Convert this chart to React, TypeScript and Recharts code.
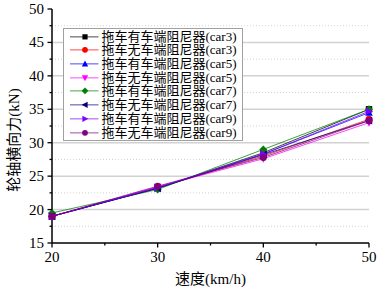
import React from 'react';
import { LineChart, Line, XAxis, YAxis, ReferenceLine } from 'recharts';

const speeds = [20, 30, 40, 50];
const seriesNames = [
  '拖车有车端阻尼器(car3)',
  '拖车无车端阻尼器(car3)',
  '拖车有车端阻尼器(car5)',
  '拖车无车端阻尼器(car5)',
  '拖车有车端阻尼器(car7)',
  '拖车无车端阻尼器(car7)',
  '拖车有车端阻尼器(car9)',
  '拖车无车端阻尼器(car9)',
];
const s1 = [19.0, 23.2, 28.5, 35.0];
const s2 = [19.0, 23.3, 28.0, 33.5];
const s3 = [19.0, 23.2, 28.3, 34.5];
const s4 = [19.0, 23.4, 27.6, 33.0];
const s5 = [19.5, 23.0, 29.0, 35.0];
const s6 = [19.0, 23.2, 28.2, 33.3];
const s7 = [19.0, 23.3, 28.3, 34.7];
const s8 = [19.0, 23.5, 27.8, 33.3];
const allSeries = [s1, s2, s3, s4, s5, s6, s7, s8];
const colors = ['#000000', '#ff0000', '#0000ff', '#ff00ff', '#008000', '#000080', '#8000ff', '#800080'];
const shapes = ['square', 'circle', 'up', 'down', 'diamond', 'left', 'right', 'circle'];

const yTicks = [15, 17.5, 20, 22.5, 25, 27.5, 30, 32.5, 35, 37.5, 40, 42.5, 45, 47.5, 50];
const xTicks = [20, 25, 30, 35, 40, 45, 50];
const majorGrid = [20, 25, 30, 35, 40, 45];
const minorGrid = [17.5, 22.5, 27.5, 32.5, 37.5, 42.5, 47.5];

const data = speeds.map((s, i) => {
  const row: any = { speed: s };
  allSeries.forEach((arr, k) => { row['s' + k] = arr[i]; });
  return row;
});

const FONT = "'Liberation Serif', 'Times New Roman', 'Noto Sans CJK SC', serif";

function Marker({ cx, cy, shape, color, r = 3.2 }: any) {
  if (cx == null || cy == null) return null;
  switch (shape) {
    case 'square':
      return <rect x={cx - r} y={cy - r} width={2 * r} height={2 * r} fill={color} />;
    case 'circle':
      return <circle cx={cx} cy={cy} r={r + 0.3} fill={color} />;
    case 'up':
      return <polygon points={`${cx},${cy - r - 0.8} ${cx - r - 0.6},${cy + r} ${cx + r + 0.6},${cy + r}`} fill={color} />;
    case 'down':
      return <polygon points={`${cx},${cy + r + 0.8} ${cx - r - 0.6},${cy - r} ${cx + r + 0.6},${cy - r}`} fill={color} />;
    case 'diamond':
      return <polygon points={`${cx},${cy - r - 0.8} ${cx + r + 0.8},${cy} ${cx},${cy + r + 0.8} ${cx - r - 0.8},${cy}`} fill={color} />;
    case 'left':
      return <polygon points={`${cx - r - 0.8},${cy} ${cx + r},${cy - r - 0.6} ${cx + r},${cy + r + 0.6}`} fill={color} />;
    case 'right':
      return <polygon points={`${cx + r + 0.8},${cy} ${cx - r},${cy - r - 0.6} ${cx - r},${cy + r + 0.6}`} fill={color} />;
    default:
      return null;
  }
}

const YTick = (props: any) => {
  const { x, y, payload } = props;
  const v = payload.value;
  const major = v % 5 === 0;
  const ax = x + 8;
  const len = major ? 4.5 : 2.5;
  return (
    <g>
      <line x1={ax} x2={ax - len} y1={y} y2={y} stroke="#000" strokeWidth={1.3} />
      {major && (
        <text x={ax - 8} y={y} dy={5} textAnchor="end" fontFamily={FONT} fontSize={15} fill="#000">
          {v}
        </text>
      )}
    </g>
  );
};

const XTick = (props: any) => {
  const { x, y, payload } = props;
  const v = payload.value;
  const major = v % 10 === 0;
  const len = major ? 4.5 : 2.5;
  return (
    <g>
      <line x1={x} x2={x} y1={y} y2={y + len} stroke="#000" strokeWidth={1.3} />
      {major && (
        <text x={x} y={y + 19} textAnchor="middle" fontFamily={FONT} fontSize={15} fill="#000">
          {v}
        </text>
      )}
    </g>
  );
};

const ROW = 13.7;

const LegendBox = () => (
  <div
    style={{
      position: 'absolute',
      left: 63,
      top: 28,
      border: '1.2px solid #a0a0a0',
      background: '#fff',
      width: 180,
      height: 113,
      padding: '0.7px 0 0 0',
      boxSizing: 'border-box',
      fontFamily: FONT,
      fontSize: 13,
      lineHeight: ROW + 'px',
      color: '#000',
    }}
  >
    {seriesNames.map((n, i) => (
      <div key={i} style={{ display: 'flex', alignItems: 'center', height: ROW }}>
        <svg width={37.5} height={ROW} style={{ flex: 'none' }}>
          <line x1={6} x2={34.5} y1={ROW / 2} y2={ROW / 2} stroke={colors[i]} strokeOpacity={0.6} strokeWidth={1.2} />
          <Marker cx={21} cy={ROW / 2} shape={shapes[i]} color={colors[i]} r={2.6} />
        </svg>
        <span style={{ whiteSpace: 'nowrap', lineHeight: ROW + 'px' }}>{n}</span>
      </div>
    ))}
  </div>
);

export default function App() {
  return (
    <div style={{ position: 'absolute', left: 0, top: 0, width: 377, height: 288, background: '#fff' }}>
      <LineChart width={377} height={288} data={data} margin={{ top: 9, right: 8, bottom: 0, left: 0 }}>
        {majorGrid.map((g) => (
          <ReferenceLine key={'M' + g} y={g} stroke="#d2d2d2" strokeWidth={1.5} ifOverflow="visible" />
        ))}
        {minorGrid.map((g) => (
          <ReferenceLine key={'m' + g} y={g} stroke="#d2d2d2" strokeWidth={1} strokeDasharray="1 2" ifOverflow="visible" />
        ))}
        <XAxis
          dataKey="speed"
          type="number"
          domain={[20, 50]}
          ticks={xTicks}
          interval={0}
          tickSize={0}
          tickMargin={0}
          tick={<XTick />}
          stroke="#000"
          axisLine={{ stroke: '#000', strokeWidth: 1.5 }}
          height={45}
          label={{ value: '速度(km/h)', position: 'insideBottom', offset: 4, fontFamily: FONT, fontSize: 15, fill: '#000' }}
        />
        <YAxis
          type="number"
          domain={[15, 50]}
          ticks={yTicks}
          interval={0}
          tickSize={0}
          tickMargin={8}
          tick={<YTick />}
          width={52}
          axisLine={{ stroke: '#000', strokeWidth: 1.5 }}
          label={(props: any) => (
            <text
              x={16}
              y={140}
              transform="rotate(-90 16 140)"
              textAnchor="middle"
              dominantBaseline="middle"
              fontFamily={FONT}
              fontSize={15}
              fill="#000"
            >
              轮轴横向力(kN)
            </text>
          )}
        />
        {allSeries.map((_, k) => (
          <Line
            key={k}
            dataKey={'s' + k}
            name={seriesNames[k]}
            stroke={colors[k]}
            strokeWidth={1}
            strokeOpacity={0.75}
            isAnimationActive={false}
            dot={(p: any) => <Marker key={`d${k}-${p.index}`} cx={p.cx} cy={p.cy} shape={shapes[k]} color={colors[k]} />}
            activeDot={false}
          />
        ))}
      </LineChart>
      <LegendBox />
    </div>
  );
}
